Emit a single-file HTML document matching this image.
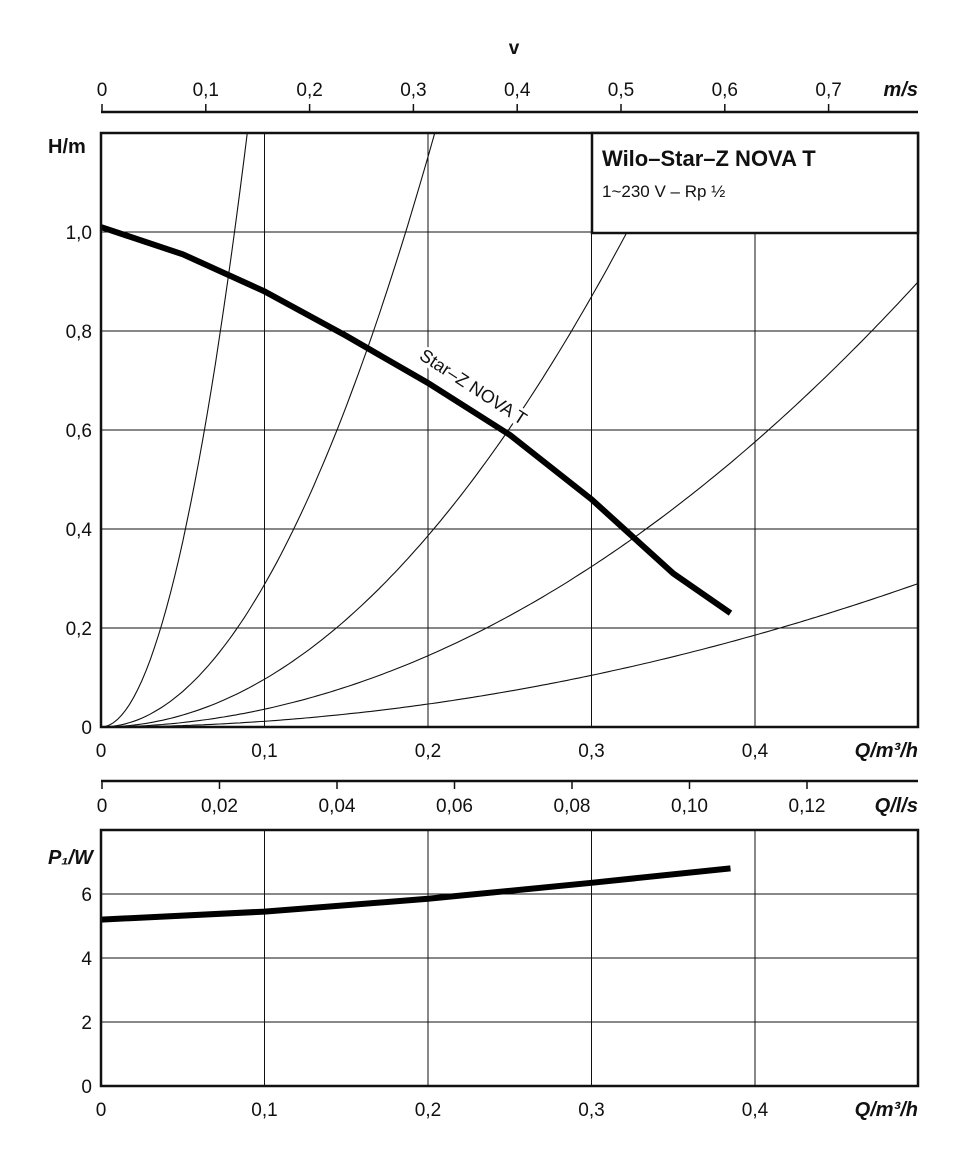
<!DOCTYPE html>
<html><head><meta charset="utf-8"><style>
body{margin:0;background:#fff}
svg text{font-family:"Liberation Sans Narrow","Liberation Sans",sans-serif;fill:#111}
</style></head><body>
<svg id="c" width="960" height="1166" viewBox="0 0 960 1166" xmlns="http://www.w3.org/2000/svg">
<rect width="960" height="1166" fill="#fff"/>
<g id="g"></g>
</svg>
<script>
const qTicks=[0,0.1,0.2,0.3,0.4];
const qTickLabels=["0","0,1","0,2","0,3","0,4"];
const hTicks=[0,0.2,0.4,0.6,0.8,1.0];
const hTickLabels=["0","0,2","0,4","0,6","0,8","1,0"];
const vTicks=[0,0.1,0.2,0.3,0.4,0.5,0.6,0.7];
const vTickLabels=["0","0,1","0,2","0,3","0,4","0,5","0,6","0,7"];
const lsTicks=[0,0.02,0.04,0.06,0.08,0.10,0.12];
const lsTickLabels=["0","0,02","0,04","0,06","0,08","0,10","0,12"];
const pTicks=[0,2,4,6];
const pTickLabels=["0","2","4","6"];
const systemK=[150,28.8,9.66,3.6,1.16];
const pumpQ=[0,0.05,0.1,0.15,0.2,0.25,0.3,0.33,0.35,0.385];
const pumpH=[1.01,0.955,0.88,0.79,0.695,0.59,0.46,0.37,0.31,0.23];
const powQ=[0,0.1,0.2,0.3,0.385];
const powP=[5.2,5.45,5.85,6.35,6.8];

const NS="http://www.w3.org/2000/svg";
const g=document.getElementById('g');
const X0=101,X1=918;
const xq=q=>X0+q*1635;
const yh=h=>727-h*495;
const yp=p=>1086-p*32;
const xv=v=>102+v*1038;
const xls=l=>102+l*5875;
function el(t,a,txt){const e=document.createElementNS(NS,t);for(const k in a)e.setAttribute(k,a[k]);if(txt!==undefined)e.textContent=txt;g.appendChild(e);return e;}

// grid main
hTicks.forEach((h,i)=>{if(h>0){const l=el('line',{x1:X0,x2:h>=1?592:X1,y1:yh(h),y2:yh(h),stroke:'#111','stroke-width':1});

}
const t=el('text',{x:92,y:yh(h)+7,'text-anchor':'end','font-size':19},hTickLabels[i]);

});
qTicks.forEach((q,i)=>{if(q>0){const l=el('line',{x1:xq(q),x2:xq(q),y1:q>=0.3?233:133,y2:727,stroke:'#111','stroke-width':1});

}
const t=el('text',{x:xq(q),y:757,'text-anchor':'middle','font-size':19},qTickLabels[i]);

});

// system curves
const cp=el('clipPath',{id:'cm'});cp.innerHTML='<rect x="101" y="133" width="817" height="594"/>';
const cp2=el('clipPath',{id:'cb'});cp2.innerHTML='<rect x="101" y="233" width="491" height="494"/><rect x="101" y="133" width="491" height="100"/><rect x="592" y="233" width="326" height="494"/>';
systemK.forEach(k=>{let d='';for(let i=0;i<=200;i++){const q=0.5*i/200;d+=(i?'L':'M')+xq(q).toFixed(1)+','+yh(k*q*q).toFixed(1);}
const p=el('path',{d,fill:'none',stroke:'#111','stroke-width':1.1,'clip-path':'url(#cb)'});

});

// pump curve
function smooth(xs,ys,fx,fy){let d='M'+fx(xs[0])+','+fy(ys[0]);for(let i=1;i<xs.length;i++){d+='L'+fx(xs[i]).toFixed(1)+','+fy(ys[i]).toFixed(1);}return d;}
const pc=el('path',{d:smooth(pumpQ,pumpH,xq,yh),fill:'none',stroke:'#000','stroke-width':6,'stroke-linejoin':'round'});


const lb=el('text',{x:0,y:0,'font-size':18,transform:'translate(470,392) rotate(33)','text-anchor':'middle',stroke:'#fff','stroke-width':6,'paint-order':'stroke'},'Star–Z NOVA T');



// frames
const f=el('rect',{x:X0,y:133,width:X1-X0,height:594,fill:'none',stroke:'#111','stroke-width':2.5});


const tb=el('rect',{x:592,y:133,width:326,height:100,fill:'#fff',stroke:'#111','stroke-width':2.5});


const t1=el('text',{x:602,y:166,'font-size':22,'font-weight':'bold'},'Wilo–Star–Z NOVA T');


const t2=el('text',{x:602,y:197,'font-size':17},'1~230 V – Rp ½');



// top v axis
const va=el('line',{x1:X0,x2:X1,y1:112,y2:112,stroke:'#111','stroke-width':2.5});


vTicks.forEach((v,i)=>{el('line',{x1:xv(v),x2:xv(v),y1:104,y2:112,stroke:'#111','stroke-width':1.5});
const t=el('text',{x:xv(v),y:96,'text-anchor':'middle','font-size':19},vTickLabels[i]);

});
const vt=el('text',{x:514,y:54,'text-anchor':'middle','font-size':19,'font-weight':'bold'},'v');


const vu=el('text',{x:918,y:96,'text-anchor':'end','font-size':20,'font-weight':'bold','font-style':'italic'},'m/s');


const ht=el('text',{x:48,y:153,'font-size':20,'font-weight':'bold'},'H/m');


const qt=el('text',{x:918,y:757,'text-anchor':'end','font-size':20,'font-weight':'bold','font-style':'italic'},'Q/m³/h');



// l/s axis
const la=el('line',{x1:X0,x2:X1,y1:781,y2:781,stroke:'#111','stroke-width':2.5});


lsTicks.forEach((l,i)=>{el('line',{x1:xls(l),x2:xls(l),y1:781,y2:789,stroke:'#111','stroke-width':1.5});
const t=el('text',{x:xls(l),y:812,'text-anchor':'middle','font-size':19},lsTickLabels[i]);

});
const lt=el('text',{x:918,y:812,'text-anchor':'end','font-size':20,'font-weight':'bold','font-style':'italic'},'Q/l/s');



// power chart
pTicks.forEach((p,i)=>{if(p>0){const l=el('line',{x1:X0,x2:X1,y1:yp(p),y2:yp(p),stroke:'#111','stroke-width':1});

}
const t=el('text',{x:92,y:yp(p)+7,'text-anchor':'end','font-size':19},pTickLabels[i]);

});
qTicks.forEach((q,i)=>{if(q>0)el('line',{x1:xq(q),x2:xq(q),y1:830,y2:1086,stroke:'#111','stroke-width':1});
const t=el('text',{x:xq(q),y:1116,'text-anchor':'middle','font-size':19},qTickLabels[i]);

});
const pw=el('path',{d:smooth(powQ,powP,xq,yp),fill:'none',stroke:'#000','stroke-width':6,'stroke-linejoin':'round'});


const pf=el('rect',{x:X0,y:830,width:X1-X0,height:256,fill:'none',stroke:'#111','stroke-width':2.5});


const pt=el('text',{x:48,y:864,'font-size':20,'font-weight':'bold','font-style':'italic'},'P₁/W');


const qt2=el('text',{x:918,y:1116,'text-anchor':'end','font-size':20,'font-weight':'bold','font-style':'italic'},'Q/m³/h');


</script>
</body></html>
